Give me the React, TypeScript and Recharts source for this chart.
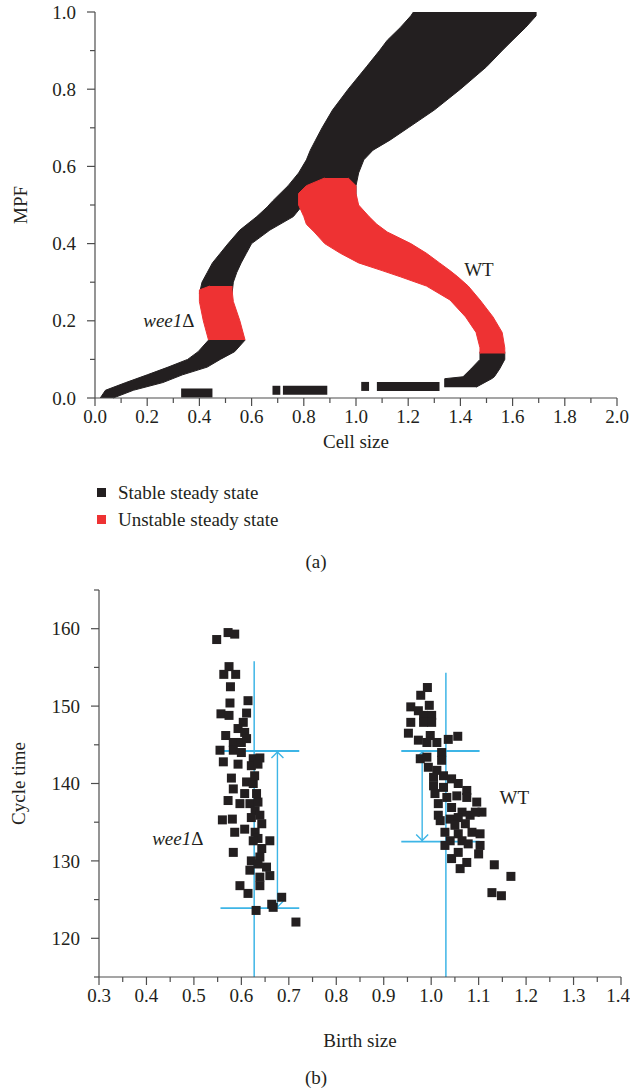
import React from 'react';
import {
  ComposedChart,
  Area,
  Line,
  Scatter,
  XAxis,
  YAxis,
  ReferenceLine,
  ReferenceDot,
  Label,
} from 'recharts';

const INK = '#231f20';
const RED = '#ee3233';
const BLUE = '#3db5e6';
const AXIS = '#4d4d4d';
const FONT = '"Liberation Serif", "Times New Roman", serif';

// ---------- (a) steady states: MPF vs cell size ----------
const cellSizeTicks = [0, 0.1, 0.2, 0.3, 0.4, 0.5, 0.6, 0.7, 0.8, 0.9, 1, 1.1, 1.2, 1.3, 1.4, 1.5, 1.6, 1.7, 1.8, 1.9, 2];
const mpfTicks = [0, 0.1, 0.2, 0.3, 0.4, 0.5, 0.6, 0.7, 0.8, 0.9, 1];

// each row: [MPF, cell size at left edge of band, cell size at right edge]
const wee1LowerStable = [
  [0.0, 0.02, 0.07],
  [0.02, 0.04, 0.147],
  [0.04, 0.118, 0.26],
  [0.06, 0.2, 0.335],
  [0.08, 0.28, 0.43],
  [0.1, 0.355, 0.48],
  [0.12, 0.395, 0.535],
  [0.15, 0.435, 0.575],
];
const wee1Unstable = [
  [0.15, 0.435, 0.575],
  [0.2, 0.415, 0.555],
  [0.25, 0.4, 0.53],
  [0.28, 0.4, 0.525],
  [0.29, 0.44, 0.525],
];
const upperStable = [
  [0.27, 0.4, 0.525],
  [0.3, 0.41, 0.53],
  [0.325, 0.43, 0.543],
  [0.35, 0.45, 0.56],
  [0.375, 0.48, 0.58],
  [0.4, 0.51, 0.6],
  [0.435, 0.555, 0.67],
  [0.47, 0.62, 0.76],
  [0.495, 0.66, 0.79],
  [0.51, 0.68, 1.0],
  [0.55, 0.74, 1.0],
  [0.583, 0.78, 1.01],
  [0.617, 0.81, 1.03],
  [0.642, 0.825, 1.065],
  [0.668, 0.845, 1.13],
  [0.7, 0.87, 1.2],
  [0.746, 0.91, 1.3],
  [0.8, 0.97, 1.4],
  [0.858, 1.04, 1.5],
  [0.9, 1.09, 1.56],
  [0.927, 1.12, 1.6],
  [0.96, 1.17, 1.65],
  [0.99, 1.21, 1.69],
  [1.0, 1.22, 1.69],
];
const wtUnstable = [
  [0.115, 1.475, 1.57],
  [0.13, 1.475, 1.57],
  [0.17, 1.46, 1.56],
  [0.21, 1.42, 1.525],
  [0.254, 1.36, 1.475],
  [0.29, 1.27, 1.43],
  [0.314, 1.17, 1.39],
  [0.33, 1.1, 1.36],
  [0.35, 1.01, 1.32],
  [0.375, 0.94, 1.27],
  [0.4, 0.88, 1.21],
  [0.43, 0.84, 1.12],
  [0.45, 0.81, 1.08],
  [0.47, 0.8, 1.05],
  [0.5, 0.78, 1.01],
  [0.53, 0.78, 1.0],
  [0.55, 0.81, 1.0],
  [0.57, 0.88, 0.97],
];
const wtLowerStable = [
  [0.028, 1.34, 1.46],
  [0.05, 1.34, 1.52],
  [0.055, 1.41, 1.53],
  [0.075, 1.44, 1.55],
  [0.1, 1.475, 1.57],
  [0.12, 1.475, 1.57],
];
// short stable pieces near MPF = 0: [MPF, from cell size, to cell size]
const lowSegments = [
  [0.013, 0.33, 0.45],
  [0.02, 0.68, 0.71],
  [0.02, 0.72, 0.89],
  [0.03, 1.02, 1.05],
  [0.03, 1.08, 1.32],
];
const bandAreas = [
  { id: 'wee1-low', rows: wee1LowerStable, color: INK },
  { id: 'upper', rows: upperStable, color: INK },
  { id: 'wt-low', rows: wtLowerStable, color: INK },
  { id: 'wt-unstable', rows: wtUnstable, color: RED },
  { id: 'wee1-unstable', rows: wee1Unstable, color: RED },
];
const curveLabels = [
  { text: 'wee1', delta: true, cell: 0.283, mpf: 0.202 },
  { text: 'WT', delta: false, cell: 1.471, mpf: 0.332 },
];
const legendItems = [
  { name: 'Stable steady state', color: INK },
  { name: 'Unstable steady state', color: RED },
];

// ---------- (b) cycle time vs birth size ----------
const birthSizeTicks = [0.3, 0.35, 0.4, 0.45, 0.5, 0.55, 0.6, 0.65, 0.7, 0.75, 0.8, 0.85, 0.9, 0.95, 1, 1.05, 1.1, 1.15, 1.2, 1.25, 1.3, 1.35, 1.4];
const cycleTimeTicks = [115, 120, 125, 130, 135, 140, 145, 150, 155, 160, 165];

const wee1Cells = [
  [0.548, 158.6], [0.572, 159.5], [0.586, 159.3], [0.574, 155.1], [0.563, 154.1], [0.588, 154.1],
  [0.577, 152.5], [0.576, 150.4], [0.614, 150.7], [0.557, 149.0], [0.574, 148.8], [0.611, 149.1],
  [0.604, 147.9], [0.593, 147.1], [0.567, 146.2], [0.607, 146.6], [0.583, 145.3], [0.6, 145.3],
  [0.611, 145.8], [0.555, 144.3], [0.583, 144.3], [0.6, 144.0], [0.562, 142.8], [0.593, 142.5],
  [0.625, 143.2], [0.639, 143.3], [0.621, 142.3], [0.635, 142.5], [0.579, 140.7], [0.611, 140.2],
  [0.625, 140.0], [0.628, 141.0], [0.583, 139.3], [0.572, 137.8], [0.607, 138.7], [0.632, 138.7],
  [0.597, 137.4], [0.618, 137.4], [0.635, 137.6], [0.629, 136.5], [0.56, 135.3], [0.581, 135.4],
  [0.621, 135.6], [0.639, 135.9], [0.643, 134.8], [0.586, 133.7], [0.607, 134.1], [0.629, 133.7],
  [0.635, 132.9], [0.66, 132.6], [0.625, 132.6], [0.643, 131.6], [0.583, 131.1], [0.639, 130.5],
  [0.621, 130.0], [0.635, 129.6], [0.653, 129.2], [0.618, 128.8], [0.66, 128.1], [0.639, 127.9],
  [0.597, 126.8], [0.639, 126.8], [0.614, 125.8], [0.685, 125.3], [0.664, 124.4], [0.667, 124.0],
  [0.631, 123.6], [0.715, 122.1],
];
const wtCells = [
  [0.992, 152.4], [0.978, 151.4], [0.957, 149.9], [0.996, 150.1], [0.973, 149.4], [0.984, 148.8],
  [1.001, 148.8], [0.957, 147.9], [0.984, 147.9], [1.001, 147.9], [0.952, 146.5], [0.973, 145.6],
  [0.998, 146.2], [1.012, 145.3], [1.036, 145.7], [1.056, 146.1], [0.991, 145.3], [1.022, 144.0],
  [0.977, 143.2], [0.991, 143.4], [1.022, 143.0], [0.994, 142.1], [1.012, 141.7], [1.005, 140.8],
  [1.026, 141.0], [1.043, 140.6], [1.005, 139.7], [1.026, 139.5], [1.057, 140.0], [1.075, 139.1],
  [1.008, 138.7], [1.033, 138.2], [1.054, 138.4], [1.075, 138.2], [1.096, 137.6], [1.015, 137.4],
  [1.043, 136.9], [1.107, 136.3], [1.065, 136.3], [1.015, 135.9], [1.04, 135.4], [1.057, 135.6],
  [1.082, 135.9], [1.093, 136.3], [1.019, 135.2], [1.05, 134.6], [1.072, 134.8], [1.029, 133.7],
  [1.057, 133.5], [1.086, 133.7], [1.103, 133.5], [1.04, 132.6], [1.065, 132.6], [1.029, 132.0],
  [1.078, 132.2], [1.103, 132.0], [1.057, 131.1], [1.043, 130.3], [1.075, 129.8], [1.061, 129.0],
  [1.1, 130.9], [1.133, 129.5], [1.168, 128.0], [1.128, 125.9], [1.148, 125.5],
];
// mean birth size line, cycle-time spread bars and the arrow between them
const guides = [
  { meanSize: 0.627, lineTop: 155.8, barFrom: 0.556, barTo: 0.722, high: 144.2, low: 123.9, arrowAt: 0.676 },
  { meanSize: 1.031, lineTop: 154.3, barFrom: 0.937, barTo: 1.102, high: 144.2, low: 132.5, arrowAt: 0.981 },
];
const cellLabels = [
  { text: 'wee1', delta: true, size: 0.466, time: 132.9 },
  { text: 'WT', delta: false, size: 1.175, time: 138.2 },
];

const textStyle = { fontFamily: FONT, fontSize: 19, fill: INK };

const bottomTick = (isMajor: (v: number) => boolean, fmt: (v: number) => string) => (p: any) => {
  const v = p.payload.value;
  const major = isMajor(v);
  // keep the last label inside the 630px page
  const tx = Math.min(p.x, 618);
  return (
    <g>
      <line x1={p.x} y1={p.y} x2={p.x} y2={p.y + (major ? 8 : 5)} stroke={AXIS} strokeWidth={1.2} />
      {major && (
        <text x={tx} y={p.y + 25} textAnchor="middle" {...textStyle}>
          {fmt(v)}
        </text>
      )}
    </g>
  );
};

const leftTick = (isMajor: (v: number) => boolean, fmt: (v: number) => string) => (p: any) => {
  const v = p.payload.value;
  const major = isMajor(v);
  return (
    <g>
      <line x1={p.x} y1={p.y} x2={p.x - (major ? 8 : 5)} y2={p.y} stroke={AXIS} strokeWidth={1.2} />
      {major && (
        <text x={p.x - 19} y={p.y} dy="0.35em" textAnchor="end" {...textStyle}>
          {fmt(v)}
        </text>
      )}
    </g>
  );
};

const xTitle = (title: string, dy: number) => (p: any) => (
  <text x={p.viewBox.x + p.viewBox.width / 2} y={p.viewBox.y + dy} textAnchor="middle" {...textStyle}>
    {title}
  </text>
);

const yTitle = (title: string, cx: number) => (p: any) => {
  const cy = p.viewBox.y + p.viewBox.height / 2;
  return (
    <text x={cx} y={cy} transform={`rotate(-90, ${cx}, ${cy})`} textAnchor="middle" dominantBaseline="central" {...textStyle}>
      {title}
    </text>
  );
};

const textMark = (text: string, delta: boolean) => (p: any) => (
  <text x={p.cx} y={p.cy} textAnchor="middle" dominantBaseline="central" {...textStyle}>
    {delta ? <tspan fontStyle="italic">{text}</tspan> : text}
    {delta ? 'Δ' : null}
  </text>
);

const ArrowShape = (p: any) => {
  const x = p.x1;
  const top = Math.min(p.y1, p.y2);
  const bottom = Math.max(p.y1, p.y2);
  return (
    <g stroke={BLUE} strokeWidth={1.4} fill="none">
      <line x1={x} y1={top} x2={x} y2={bottom} />
      <polyline points={`${x - 6},${top + 7} ${x},${top + 1} ${x + 6},${top + 7}`} />
      <polyline points={`${x - 6},${bottom - 7} ${x},${bottom - 1} ${x + 6},${bottom - 7}`} />
    </g>
  );
};

const squareDot = (p: any) => <rect x={p.cx - 4.5} y={p.cy - 4.5} width={9} height={9} fill={INK} />;

const isTenth2 = (v: number) => Math.round(v * 10) % 2 === 0;

const SteadyStateChart = () => (
  <ComposedChart layout="vertical" width={630} height={470} margin={{ top: 12, right: 13, bottom: 20, left: 0 }}>
    <XAxis
      type="number"
      domain={[0, 2]}
      ticks={cellSizeTicks}
      interval={0}
      height={52}
      tickSize={0}
      tickMargin={0}
      tickLine={false}
      axisLine={{ stroke: AXIS, strokeWidth: 1.2 }}
      tick={bottomTick(isTenth2, (v) => v.toFixed(1))}
    >
      <Label content={xTitle('Cell size', 50)} />
    </XAxis>
    <YAxis
      type="number"
      dataKey="mpf"
      domain={[0, 1]}
      reversed
      ticks={mpfTicks}
      interval={0}
      width={95}
      tickSize={0}
      tickMargin={0}
      tickLine={false}
      axisLine={{ stroke: AXIS, strokeWidth: 1.2 }}
      tick={leftTick(isTenth2, (v) => v.toFixed(1))}
    >
      <Label content={yTitle('MPF', 20.5)} />
    </YAxis>
    {bandAreas.map((b) => (
      <Area
        key={b.id}
        type="linear"
        data={b.rows.map(([mpf, lo, hi]) => ({ mpf, cell: [lo, hi] }))}
        dataKey="cell"
        fill={b.color}
        fillOpacity={1}
        stroke={b.color}
        strokeWidth={1}
        isAnimationActive={false}
        activeDot={false}
        dot={false}
      />
    ))}
    {lowSegments.map(([mpf, from, to], i) => (
      <Line
        key={`seg-${i}`}
        type="linear"
        data={[{ mpf, cell: from }, { mpf, cell: to }]}
        dataKey="cell"
        stroke={INK}
        strokeWidth={9}
        strokeLinecap="butt"
        dot={false}
        activeDot={false}
        isAnimationActive={false}
      />
    ))}
    {curveLabels.map((l) => (
      <ReferenceDot key={l.text} x={l.cell} y={l.mpf} r={1} shape={textMark(l.text, l.delta)} />
    ))}
  </ComposedChart>
);

const CycleTimeChart = () => (
  <ComposedChart width={630} height={500} margin={{ top: 10, right: 9, bottom: 51, left: 0 }}>
    <XAxis
      type="number"
      dataKey="size"
      domain={[0.3, 1.4]}
      ticks={birthSizeTicks}
      interval={0}
      height={52}
      tickSize={0}
      tickMargin={0}
      tickLine={false}
      axisLine={{ stroke: AXIS, strokeWidth: 1.2 }}
      tick={bottomTick((v) => Math.round(v * 100) % 10 === 0, (v) => v.toFixed(1))}
    >
      <Label content={xTitle('Birth size', 70)} />
    </XAxis>
    <YAxis
      type="number"
      dataKey="time"
      domain={[115, 165]}
      ticks={cycleTimeTicks}
      interval={0}
      width={99}
      tickSize={0}
      tickMargin={0}
      tickLine={false}
      axisLine={{ stroke: AXIS, strokeWidth: 1.2 }}
      tick={leftTick((v) => v % 10 === 0, (v) => String(v))}
    >
      <Label content={yTitle('Cycle time', 18)} />
    </YAxis>
    <Scatter
      data={wee1Cells.map(([size, time]) => ({ size, time }))}
      fill={INK}
      shape={squareDot}
      isAnimationActive={false}
    />
    <Scatter
      data={wtCells.map(([size, time]) => ({ size, time }))}
      fill={INK}
      shape={squareDot}
      isAnimationActive={false}
    />
    {guides.map((g, i) => [
      <ReferenceLine
        key={`mean-${i}`}
        segment={[{ x: g.meanSize, y: 115 }, { x: g.meanSize, y: g.lineTop }]}
        stroke={BLUE}
        strokeWidth={1.5}
      />,
      <ReferenceLine
        key={`high-${i}`}
        segment={[{ x: g.barFrom, y: g.high }, { x: g.barTo, y: g.high }]}
        stroke={BLUE}
        strokeWidth={1.8}
      />,
      <ReferenceLine
        key={`low-${i}`}
        segment={[{ x: g.barFrom, y: g.low }, { x: g.barTo, y: g.low }]}
        stroke={BLUE}
        strokeWidth={1.8}
      />,
      <ReferenceLine
        key={`arrow-${i}`}
        segment={[{ x: g.arrowAt, y: g.low }, { x: g.arrowAt, y: g.high }]}
        stroke={BLUE}
        shape={ArrowShape}
      />,
    ])}
    {cellLabels.map((l) => (
      <ReferenceDot key={l.text} x={l.size} y={l.time} r={1} shape={textMark(l.text, l.delta)} />
    ))}
  </ComposedChart>
);

export default function App() {
  return (
    <div style={{ position: 'relative', width: 630, height: 1090, background: '#fff', fontFamily: FONT, color: INK }}>
      <style>{'body { margin: 0; }'}</style>
      <div style={{ position: 'absolute', left: 0, top: 0 }}>
        <SteadyStateChart />
      </div>
      <div style={{ position: 'absolute', left: 97, top: 479, fontSize: 19 }}>
        {legendItems.map((item) => (
          <div key={item.name} style={{ display: 'flex', alignItems: 'center', height: 27 }}>
            <span style={{ display: 'inline-block', width: 9, height: 9, background: item.color, marginRight: 12 }} />
            <span>{item.name}</span>
          </div>
        ))}
      </div>
      <div style={{ position: 'absolute', left: 266, width: 100, top: 551, fontSize: 19, lineHeight: '22px', textAlign: 'center' }}>(a)</div>
      <div style={{ position: 'absolute', left: 0, top: 580 }}>
        <CycleTimeChart />
      </div>
      <div style={{ position: 'absolute', left: 266, width: 100, top: 1067, fontSize: 19, lineHeight: '22px', textAlign: 'center' }}>(b)</div>
    </div>
  );
}
